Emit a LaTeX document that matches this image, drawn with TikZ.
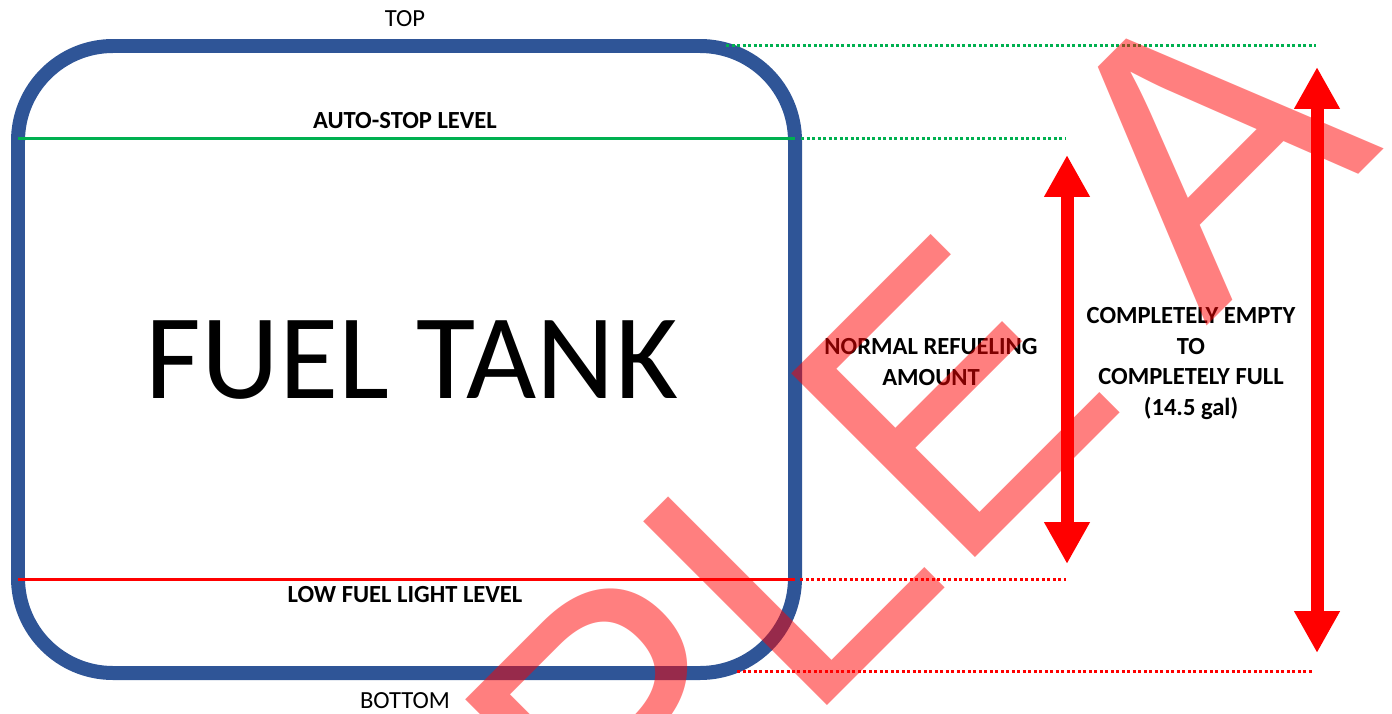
\documentclass[tikz,border=0pt]{standalone}
\usepackage{fontspec}
\setmainfont{Carlito}
\newfontfamily\wmfont{Liberation Sans}
\usetikzlibrary{arrows.meta}

\definecolor{tankblue}{RGB}{47,85,151}
\definecolor{stopgreen}{RGB}{0,176,80}
\definecolor{lowred}{RGB}{255,0,0}

\begin{document}
\begin{tikzpicture}[
  x=0.02cm, y=-0.02cm,
  tank/.style={draw=tankblue, line width=0.28cm, rounded corners=1.9cm},
  level/.style={line width=0.06cm},
  guide/.style={line width=0.06cm, dash pattern=on 0.06cm off 0.05cm},
  lbl/.style={font=\fontsize{14}{17.4}\selectfont\bfseries, align=center, inner sep=0pt},
  endlbl/.style={font=\fontsize{14}{17}\selectfont, inner sep=0pt},
  bigtxt/.style={font=\fontsize{69}{70}\selectfont, inner sep=0pt},
  span/.style={{Triangle[length=0.84cm,width=0.86cm]}-{Triangle[length=0.84cm,width=0.86cm]},
               line width=0.26cm, draw=lowred},
  wmark/.style={text=lowred, text opacity=0.5, inner sep=0pt,
                font=\wmfont\fontsize{215}{215}\selectfont}
]
\useasboundingbox (0,0) rectangle (1392,713);
\clip (0,0) rectangle (1392,713);
% tank outline
\draw[tank] (18,46) rectangle (795,673);
% levels inside the tank
\coordinate (stopL) at (18,138);
\coordinate (stopR) at (795,138);
\coordinate (lowL)  at (18,579);
\coordinate (lowR)  at (795,579);
\draw[level, stopgreen] (stopL) -- (stopR);
\draw[level, lowred]    (lowL) -- (lowR);
% dotted guides to the right
\coordinate (topA) at (726,46);
\coordinate (topB) at (1316,46);
\coordinate (stopA) at (801,138);
\coordinate (stopB) at (1066,138);
\coordinate (lowA) at (800,579);
\coordinate (lowB) at (1066,579);
\coordinate (botA) at (737,671);
\coordinate (botB) at (1314,671);
\draw[guide, stopgreen] (topA) -- (topB);
\draw[guide, stopgreen] (stopA) -- (stopB);
\draw[guide, lowred] (lowA) -- (lowB);
\draw[guide, lowred] (botA) -- (botB);
% labels
\node[endlbl, anchor=base] (top) at (405,27) {TOP};
\node[endlbl, anchor=base] (bottom) at (405,708) {BOTTOM};
\node[lbl, anchor=base] (stoplbl) at (405,129) {AUTO-STOP LEVEL};
\node[lbl, anchor=base] (lowlbl) at (405,602) {LOW FUEL LIGHT LEVEL};
\node[bigtxt, anchor=base] (tanklbl) at (412,398) {FUEL TANK};
\node[lbl, anchor=north] (normal) at (931,338) {NORMAL REFUELING\\AMOUNT};
\node[lbl, anchor=north] (full) at (1191,307) {COMPLETELY EMPTY\\TO\\COMPLETELY FULL\\(14.5 gal)};
% range arrows
\coordinate (n1) at (1067,155);
\coordinate (n2) at (1067,564);
\coordinate (f1) at (1317,67);
\coordinate (f2) at (1317,653);
\draw[span] (n1) -- (n2);
\draw[span] (f1) -- (f2);
% watermark
\node[wmark, rotate=45, anchor=base west] (wm) at (627,906)
  {PLE A};
\end{tikzpicture}
\end{document}
